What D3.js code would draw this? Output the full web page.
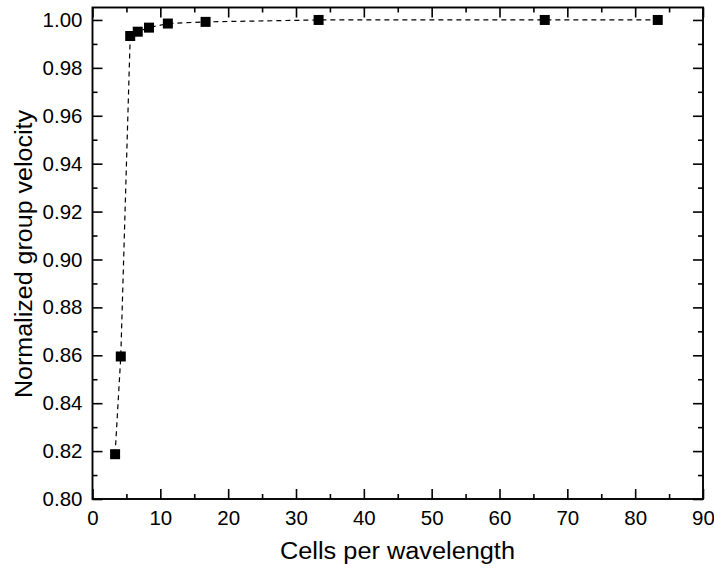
<!DOCTYPE html>
<html>
<head>
<meta charset="utf-8">
<script src="https://cdn.jsdelivr.net/npm/d3@7"></script>
<style>
  html, body { margin: 0; padding: 0; background: #fff; }
  svg { display: block; font-family: "Liberation Sans", Arial, sans-serif; }
</style>
</head>
<body>
<svg id="chart" width="714" height="572"></svg>
<script>
// Cells per wavelength and the normalized group velocity measured at each
const cellsPerWavelength = [3.33, 4.17, 5.56, 6.67, 8.33, 11.11, 16.67, 33.33, 66.67, 83.33];
const groupVelocity = [0.8187, 0.8595, 0.9933, 0.9951, 0.9968, 0.9985, 0.9992, 1.0000, 1.0000, 1.0000];

const xTicks = [0, 10, 20, 30, 40, 50, 60, 70, 80, 90];
const yTicks = [0.80, 0.82, 0.84, 0.86, 0.88, 0.90, 0.92, 0.94, 0.96, 0.98, 1.00];

const svg = d3.select("#chart");
const margin = { left: 92.5, right: 11, top: 7.5, bottom: 73 };
const W = 714, H = 572;

const x = d3.scaleLinear().domain([0, 90]).range([margin.left, W - margin.right]);
const y = d3.scaleLinear().domain([0.80, 1.0052]).range([H - margin.bottom, margin.top]);

const xMinor = d3.range(5, 90, 10);
const yMinor = d3.range(0.81, 1.0, 0.02);

const g = svg.append("g");

// Bottom axis with labels, inward ticks
const axBottom = g.append("g").attr("transform", `translate(0,${y.range()[0]})`)
  .call(d3.axisBottom(x).tickValues(xTicks).tickFormat(d3.format("d")).tickSizeInner(-10).tickSizeOuter(0).tickPadding(11.5));
axBottom.append("g").call(d3.axisBottom(x).tickValues(xMinor).tickFormat("").tickSizeInner(-5).tickSizeOuter(0));

// Top axis, ticks only
const axTop = g.append("g").attr("transform", `translate(0,${y.range()[1]})`)
  .call(d3.axisTop(x).tickValues(xTicks).tickFormat("").tickSizeInner(-10).tickSizeOuter(0));
axTop.append("g").call(d3.axisTop(x).tickValues(xMinor).tickFormat("").tickSizeInner(-5).tickSizeOuter(0));

// Left axis with labels
const axLeft = g.append("g").attr("transform", `translate(${x.range()[0]},0)`)
  .call(d3.axisLeft(y).tickValues(yTicks).tickFormat(d3.format(".2f")).tickSizeInner(-10).tickSizeOuter(0).tickPadding(10));
axLeft.append("g").call(d3.axisLeft(y).tickValues(yMinor).tickFormat("").tickSizeInner(-5).tickSizeOuter(0));

// Right axis, ticks only
const axRight = g.append("g").attr("transform", `translate(${x.range()[1]},0)`)
  .call(d3.axisRight(y).tickValues(yTicks).tickFormat("").tickSizeInner(-10).tickSizeOuter(0));
axRight.append("g").call(d3.axisRight(y).tickValues(yMinor).tickFormat("").tickSizeInner(-5).tickSizeOuter(0));

g.selectAll(".domain").remove();
g.selectAll(".tick line").attr("stroke", "#000").attr("stroke-width", 1.6);
g.selectAll(".tick text").attr("fill", "#000").style("font-size", "20.5px");

// Frame around the plot area
svg.append("rect")
  .attr("x", x.range()[0]).attr("y", y.range()[1])
  .attr("width", x.range()[1] - x.range()[0])
  .attr("height", y.range()[0] - y.range()[1])
  .attr("fill", "none").attr("stroke", "#000").attr("stroke-width", 1.9);

const pts = cellsPerWavelength.map((c, i) => [c, groupVelocity[i]]);

// Dashed connecting line
svg.append("path")
  .datum(pts)
  .attr("fill", "none")
  .attr("stroke", "#000")
  .attr("stroke-width", 1.2)
  .attr("stroke-dasharray", "5,4")
  .attr("d", d3.line().x(d => x(d[0])).y(d => y(d[1])));

// Square markers
const s = 10;
svg.append("g").selectAll("rect")
  .data(pts)
  .join("rect")
  .attr("x", d => x(d[0]) - s / 2)
  .attr("y", d => y(d[1]) - s / 2)
  .attr("width", s).attr("height", s)
  .attr("fill", "#000");

// Axis titles
svg.append("text")
  .attr("x", 397.5)
  .attr("y", 559)
  .attr("text-anchor", "middle")
  .attr("textLength", 235)
  .attr("lengthAdjust", "spacingAndGlyphs")
  .style("font-size", "23.5px")
  .text("Cells per wavelength");

svg.append("text")
  .attr("transform", "translate(32,254) rotate(-90)")
  .attr("text-anchor", "middle")
  .attr("textLength", 288)
  .attr("lengthAdjust", "spacingAndGlyphs")
  .style("font-size", "23.5px")
  .text("Normalized group velocity");
</script>
</body>
</html>
